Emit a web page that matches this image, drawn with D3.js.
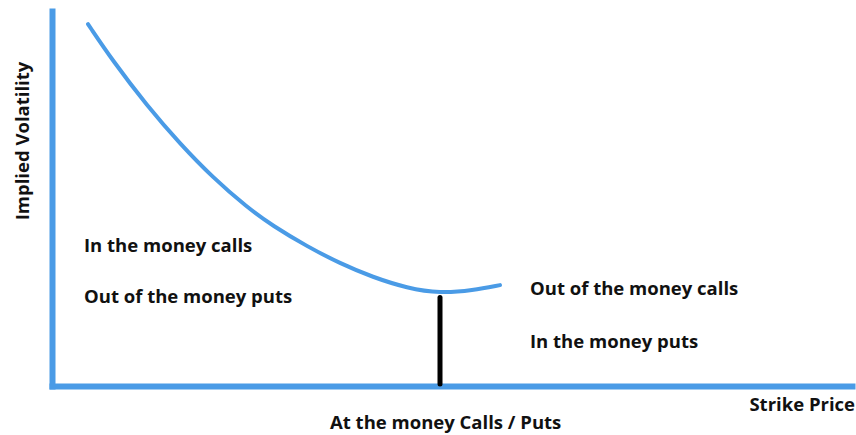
<!DOCTYPE html>
<html>
<head>
<meta charset="utf-8">
<script src="https://cdn.jsdelivr.net/npm/d3@7"></script>
<style>
  body { margin: 0; background: #fff; }
  text { font-family: "Open Sans", sans-serif; font-weight: bold; fill: #111; }
</style>
</head>
<body>
<div id="smile"></div>
<script>
// strike (0-100 scale) and implied volatility
var strikes = [4.5, 7.6, 11.9, 16, 20.1, 24.4, 27.6, 31.9, 36, 40.1, 44.4, 48.5, 52.6, 56];
var vols    = [96.5, 86.7, 74.7, 64.6, 55.6, 47.6, 42.7, 37.2, 32.7, 29, 26.1, 24.7, 25.5, 26.9];

var atmStrike = 48.5,
    atmVol = 24.7;

var leftLabels  = ["In the money calls", "Out of the money puts"];
var rightLabels = ["Out of the money calls", "In the money puts"];
var xTitle = "Strike Price",
    yTitle = "Implied Volatility",
    atmTitle = "At the money Calls / Puts";

var width = 856, height = 435;
var blue = "#4a9be6";

var svg = d3.select("#smile")
  .append("svg")
    .attr("width", width)
    .attr("height", height);

var x = d3.scaleLinear()
  .domain([0, 100])
  .range([52, 852]);

var y = d3.scaleLinear()
  .domain([0, 100])
  .range([386, 11]);

// axes: just the domain lines, no ticks
svg.append("g")
  .attr("transform", "translate(0," + y(0) + ")")
  .call(d3.axisBottom(x).ticks(0).tickSizeOuter(0));

svg.append("g")
  .attr("transform", "translate(" + x(0) + ",0)")
  .call(d3.axisLeft(y).ticks(0).tickSizeOuter(0));

svg.selectAll(".domain")
  .attr("stroke", blue)
  .attr("stroke-width", 6)
  .attr("stroke-linecap", "square");

// at the money marker
svg.append("line")
  .attr("x1", x(atmStrike))
  .attr("x2", x(atmStrike))
  .attr("y1", y(atmVol) + 4)
  .attr("y2", y(0) - 2)
  .attr("stroke", "#000")
  .attr("stroke-width", 5)
  .attr("stroke-linecap", "round");

// the smile
var pts = strikes.map(function(d, i) { return [d, vols[i]]; });

var line = d3.line()
  .x(function(d) { return x(d[0]); })
  .y(function(d) { return y(d[1]); })
  .curve(d3.curveBasis);

svg.append("path")
  .datum(pts)
  .attr("fill", "none")
  .attr("stroke", blue)
  .attr("stroke-width", 4)
  .attr("stroke-linecap", "round")
  .attr("d", line);

// labels
var fs = "18.5px";

svg.selectAll(".left")
  .data(leftLabels)
  .enter().append("text")
  .attr("class", "left")
  .attr("x", 84)
  .attr("y", function(d, i) { return 252 + i * 51; })
  .attr("font-size", fs)
  .text(function(d) { return d; });

svg.selectAll(".right")
  .data(rightLabels)
  .enter().append("text")
  .attr("class", "right")
  .attr("x", 530)
  .attr("y", function(d, i) { return 295 + i * 53; })
  .attr("font-size", fs)
  .text(function(d) { return d; });

svg.append("text")
  .attr("x", 330)
  .attr("y", 429)
  .attr("font-size", fs)
  .text(atmTitle);

svg.append("text")
  .attr("text-anchor", "end")
  .attr("x", 855)
  .attr("y", 411)
  .attr("font-size", fs)
  .text(xTitle);

svg.append("text")
  .attr("text-anchor", "middle")
  .attr("transform", "translate(29,141) rotate(-90)")
  .attr("font-size", fs)
  .text(yTitle);
</script>
</body>
</html>
